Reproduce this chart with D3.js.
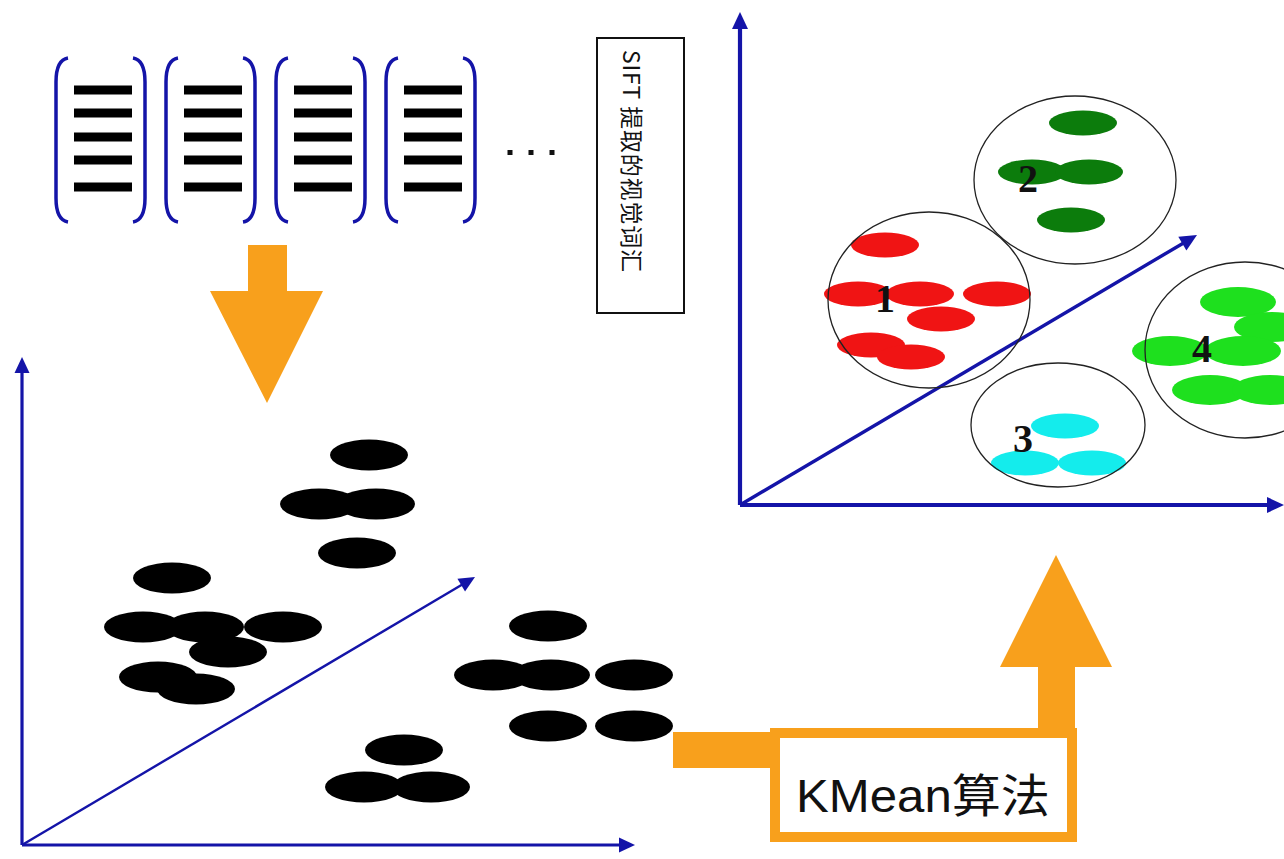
<!DOCTYPE html>
<html>
<head>
<meta charset="utf-8">
<script src="https://cdn.jsdelivr.net/npm/d3@7"></script>
<style>
  html, body { margin: 0; padding: 0; background: #fff; overflow: hidden; }
</style>
</head>
<body>
<div id="chart"></div>
<script>
// top row: descriptor vectors
const vectorGroups = [0, 1, 2, 3]
const vectorRows = [90, 113, 137, 160, 187]
const dotsX = [510, 531, 552]

const siftLabel = 'SIFT 提取的视觉词汇'
const kmeanLabel = 'KMean算法'

// left panel points (offset from the axis origin)
const rawX = [347, 297, 354, 335, 150, 121, 183, 261, 206, 136, 174, 526, 471, 529, 612, 526, 612, 382, 342, 409]
const rawY = [390, 341, 341, 292, 267, 218, 218, 218, 193, 168, 156, 219, 170, 170, 170, 119, 119, 95, 58, 58]

// right panel clusters
const clusterNames = ['1', '2', '3', '4']
const clusterColors = ['#f01414', '#0c7c0c', '#14ecec', '#1ee01e']
const clusterCx = [189, 335, 318, 505]
const clusterCy = [205, 325, 80, 155]
const clusterRx = [101, 101, 87, 100]
const clusterRy = [88, 84, 62, 88]
const labelX = [145, 288, 283, 462]
const labelY = [207, 327, 67, 157]

const pointCluster = [0, 0, 0, 0, 0, 0, 0, 1, 1, 1, 1, 2, 2, 2, 3, 3, 3, 3, 3, 3]
const pointX = [145, 118, 180, 257, 201, 131, 171, 343, 292, 349, 331, 325, 285, 352, 498, 532, 430, 503, 470, 530]
const pointY = [260, 211, 211, 211, 186, 160, 148, 382, 333, 333, 285, 79, 42, 42, 203, 178, 154, 154, 115, 115]

const width = 1284
const height = 859
const blue = '#1414a8'
const orange = '#f8a01c'

const svg = d3.select('#chart')
	.append('svg')
	.attr('width', width)
	.attr('height', height)

svg.append('rect').attr('width', width).attr('height', height).attr('fill', '#fff')

function arrowPath(x1, y1, x2, y2, headLen, headW){
	let a = Math.atan2(y2 - y1, x2 - x1)
	let bx = x2 - headLen * Math.cos(a)
	let by = y2 - headLen * Math.sin(a)
	let nx = -Math.sin(a) * headW / 2
	let ny = Math.cos(a) * headW / 2
	return `M${bx + nx},${by + ny}L${x2},${y2}L${bx - nx},${by - ny}Z`
}

function drawAxes(g, x, y, diag, sw, headLen, headW){
	let o = [x(0), y(0)]
	let ends = [[x(0), y.range()[1]], [x.range()[1], y(0)], diag]
	ends.forEach(function(e, i){
		let a = Math.atan2(e[1] - o[1], e[0] - o[0])
		g.append('line')
			.attr('x1', o[0]).attr('y1', o[1])
			.attr('x2', e[0] - headLen * 0.8 * Math.cos(a))
			.attr('y2', e[1] - headLen * 0.8 * Math.sin(a))
			.attr('stroke', blue)
			.attr('stroke-width', i == 2 ? sw - 0.8 : sw)
		g.append('path')
			.attr('d', arrowPath(o[0], o[1], e[0], e[1], headLen, headW))
			.attr('fill', blue)
	})
}

// ---- top: bracketed vectors ----
const groupX = d3.scalePoint().domain(vectorGroups).range([56, 386])
const topRow = svg.append('g')

vectorGroups.forEach(function(i){
	let gx = groupX(i)
	let rx = gx + 89
	topRow.append('path')
		.attr('d', `M${gx + 12},58 Q${gx},60 ${gx},82 L${gx},198 Q${gx},220 ${gx + 12},222`)
		.attr('fill', 'none').attr('stroke', blue).attr('stroke-width', 3.5)
	topRow.append('path')
		.attr('d', `M${rx - 12},58 Q${rx},60 ${rx},82 L${rx},198 Q${rx},220 ${rx - 12},222`)
		.attr('fill', 'none').attr('stroke', blue).attr('stroke-width', 3.5)
	topRow.selectAll('.row' + i)
		.data(vectorRows)
		.enter()
		.append('rect')
		.attr('x', gx + 18)
		.attr('y', d => d - 4.5)
		.attr('width', 58)
		.attr('height', 9)
		.attr('fill', '#000')
})

topRow.selectAll('.dot')
	.data(dotsX)
	.enter()
	.append('rect')
	.attr('x', d => d - 2.5)
	.attr('y', 150)
	.attr('width', 5)
	.attr('height', 5)
	.attr('fill', '#111')

// SIFT box
svg.append('rect')
	.attr('x', 597).attr('y', 38)
	.attr('width', 87).attr('height', 275)
	.attr('fill', '#fff').attr('stroke', '#111').attr('stroke-width', 2)

svg.append('text')
	.attr('transform', 'translate(633,50) rotate(90)')
	.attr('dominant-baseline', 'central')
	.attr('font-family', '"Noto Sans CJK SC", "DejaVu Sans Mono", sans-serif')
	.attr('font-size', 23)
	.attr('textLength', 222)
	.attr('lengthAdjust', 'spacing')
	.attr('fill', '#111')
	.text(siftLabel)

// ---- orange arrows ----
svg.append('path')
	.attr('d', 'M248,245 L287,245 L287,291 L323,291 L267,403 L210,291 L248,291 Z')
	.attr('fill', orange)

svg.append('rect')
	.attr('x', 673).attr('y', 732).attr('width', 100).attr('height', 36)
	.attr('fill', orange)

svg.append('path')
	.attr('d', 'M1038,740 L1038,667 L1000,667 L1056,555 L1112,667 L1075,667 L1075,740 Z')
	.attr('fill', orange)

svg.append('rect')
	.attr('x', 775).attr('y', 733)
	.attr('width', 297).attr('height', 104)
	.attr('fill', '#fff').attr('stroke', orange).attr('stroke-width', 10)

svg.append('text')
	.attr('x', 796).attr('y', 812)
	.attr('font-family', '"Liberation Sans", "Noto Sans CJK SC", sans-serif')
	.attr('font-size', 46)
	.attr('textLength', 254)
	.attr('lengthAdjust', 'spacingAndGlyphs')
	.attr('fill', '#111')
	.text(kmeanLabel)

// ---- left panel: unclustered words ----
const xL = d3.scaleLinear().domain([0, 613]).range([22, 635])
const yL = d3.scaleLinear().domain([0, 488]).range([845, 357])
const leftPanel = svg.append('g')

drawAxes(leftPanel, xL, yL, [475, 577], 3.2, 16, 15)

leftPanel.selectAll('.pt')
	.data(rawX)
	.enter()
	.append('ellipse')
	.attr('cx', d => xL(d))
	.attr('cy', (d, i) => yL(rawY[i]))
	.attr('rx', 39)
	.attr('ry', 15.5)
	.attr('fill', '#000')

// ---- right panel: clusters ----
const xR = d3.scaleLinear().domain([0, 544]).range([740, 1284])
const yR = d3.scaleLinear().domain([0, 493]).range([505, 12])
const color = d3.scaleOrdinal().domain(d3.range(4)).range(clusterColors)
const rightPanel = svg.append('g')

drawAxes(rightPanel, xR, yR, [1197, 235], 4.2, 17, 16)

rightPanel.selectAll('.cp')
	.data(pointX)
	.enter()
	.append('ellipse')
	.attr('cx', d => xR(d))
	.attr('cy', (d, i) => yR(pointY[i]))
	.attr('rx', (d, i) => pointCluster[i] == 3 ? 38 : 34)
	.attr('ry', (d, i) => pointCluster[i] == 3 ? 15 : 12.5)
	.attr('fill', (d, i) => color(pointCluster[i]))

rightPanel.selectAll('.ring')
	.data(clusterCx)
	.enter()
	.append('ellipse')
	.attr('cx', d => xR(d))
	.attr('cy', (d, i) => yR(clusterCy[i]))
	.attr('rx', (d, i) => clusterRx[i])
	.attr('ry', (d, i) => clusterRy[i])
	.attr('fill', 'none')
	.attr('stroke', '#222')
	.attr('stroke-width', 1.3)

rightPanel.selectAll('.lab')
	.data(clusterNames)
	.enter()
	.append('text')
	.attr('x', (d, i) => xR(labelX[i]))
	.attr('y', (d, i) => yR(labelY[i]))
	.attr('text-anchor', 'middle')
	.attr('dominant-baseline', 'central')
	.attr('font-family', '"Liberation Serif", serif')
	.attr('font-weight', 'bold')
	.attr('font-size', 40)
	.attr('fill', '#111')
	.text(d => d)
</script>
</body>
</html>
